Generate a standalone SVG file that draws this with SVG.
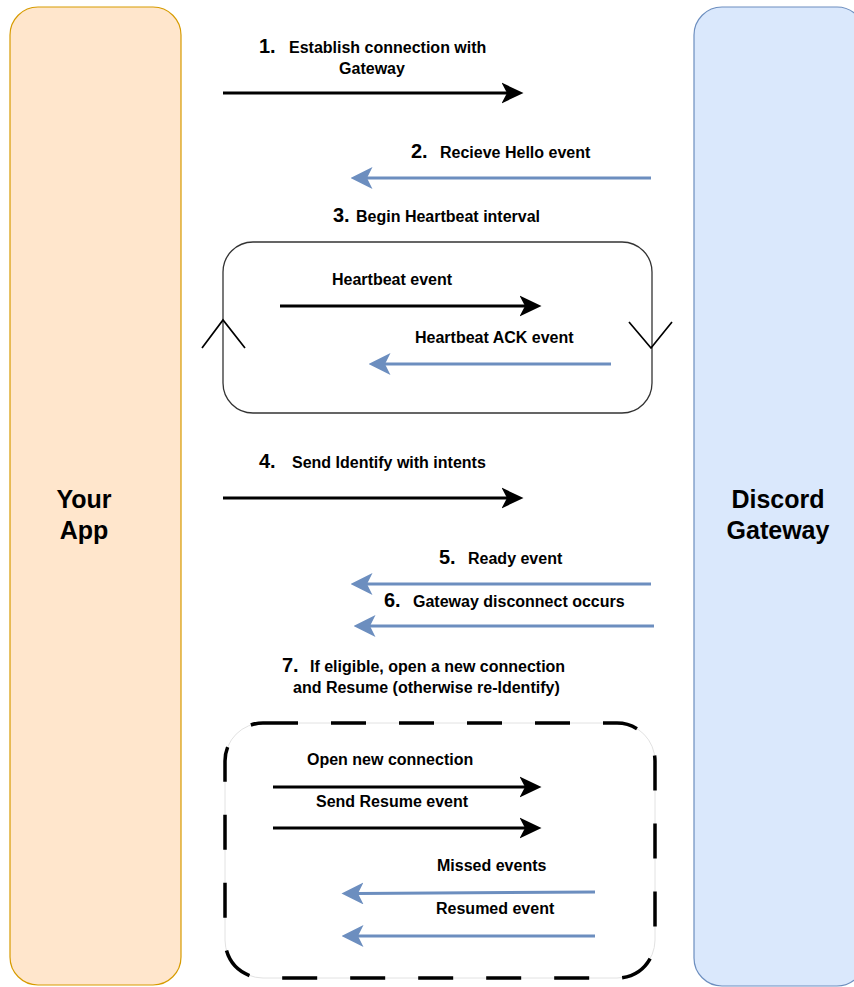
<svg xmlns="http://www.w3.org/2000/svg" width="854" height="987" viewBox="0 0 854 987">
  <style>
    .lbl { font-family: "Liberation Sans", Arial, sans-serif; font-weight: bold; font-size: 16px; fill: #000; }
    .num { font-family: "Liberation Sans", Arial, sans-serif; font-weight: bold; font-size: 20px; fill: #000; }
    .lane { font-family: "Liberation Sans", Arial, sans-serif; font-weight: bold; font-size: 25px; fill: #000; text-anchor: middle; }
    .send { stroke: #000; stroke-width: 3; fill: none; marker-end: url(#headBlack); }
    .recv { stroke: #6c8ebf; stroke-width: 3; fill: none; marker-end: url(#headBlue); }
    .chev { stroke: #000; stroke-width: 1.7; fill: none; }
  </style>
  <defs>
    <marker id="headBlack" markerUnits="userSpaceOnUse" markerWidth="22" markerHeight="22" viewBox="0 0 20 19" refX="5" refY="9.5" orient="auto">
      <path d="M0,0 L20,9.5 L0,19 L5,9.5 Z" fill="#000"/>
    </marker>
    <marker id="headBlue" markerUnits="userSpaceOnUse" markerWidth="22" markerHeight="22" viewBox="0 0 20 20" refX="5" refY="10" orient="auto">
      <path d="M0,0 L20,10 L0,20 L5,10 Z" fill="#6c8ebf"/>
    </marker>
  </defs>
  <rect width="854" height="987" fill="#fff"/>

  <g id="lane-your-app">
    <rect x="10" y="7" width="171" height="978" rx="28" ry="28" fill="#ffe6cc" stroke="#d79b00" stroke-width="1.2"/>
    <text class="lane" x="84" y="508">Your</text>
    <text class="lane" x="84" y="539">App</text>
  </g>

  <g id="lane-discord-gateway">
    <rect x="694" y="7" width="171" height="979" rx="28" ry="28" fill="#dae8fc" stroke="#6c8ebf" stroke-width="1.2"/>
    <text class="lane" x="778" y="508">Discord</text>
    <text class="lane" x="778" y="539">Gateway</text>
  </g>

  <g id="heartbeat-loop">
    <rect x="223" y="242" width="429" height="171" rx="30" ry="30" fill="none" stroke="#333" stroke-width="1.3"/>
    <path class="chev" d="M202,348 L223,320 L245,348"/>
    <path class="chev" d="M629,322 L651,348 L672,322"/>
  </g>

  <g id="resume-box">
    <rect x="225" y="723" width="430" height="255" rx="38" ry="38" fill="none" stroke="#e2e2e2" stroke-width="1"/>
    <rect x="225" y="723" width="430" height="255" rx="38" ry="38" fill="none" stroke="#000" stroke-width="3.5" stroke-dasharray="35 33"/>
  </g>

  <g id="connectors">
    <line id="c1" class="send" x1="223" y1="93" x2="507" y2="93"/>
    <line id="c2" class="recv" x1="651" y1="178" x2="367" y2="178"/>
    <line id="c3a" class="send" x1="280" y1="306" x2="525" y2="306"/>
    <line id="c3b" class="recv" x1="611" y1="364" x2="385" y2="364"/>
    <line id="c4" class="send" x1="223" y1="498" x2="507" y2="498"/>
    <line id="c5" class="recv" x1="651" y1="584" x2="367" y2="584"/>
    <line id="c6" class="recv" x1="654" y1="626" x2="370" y2="626"/>
    <line id="c7a" class="send" x1="273" y1="787" x2="525" y2="787"/>
    <line id="c7b" class="send" x1="273" y1="828" x2="525" y2="828"/>
    <line id="c7c" class="recv" x1="595" y1="892" x2="358" y2="893.5"/>
    <line id="c7d" class="recv" x1="595" y1="936" x2="358" y2="936"/>
  </g>

  <g id="labels">
    <text class="num" x="259" y="53">1.</text>
    <text class="lbl" x="289" y="53">Establish connection with</text>
    <text class="lbl" x="372" y="74" text-anchor="middle">Gateway</text>

    <text class="num" x="411" y="158">2.</text>
    <text class="lbl" x="440" y="158">Recieve Hello event</text>

    <text class="num" x="333" y="222">3.</text>
    <text class="lbl" x="356" y="222">Begin Heartbeat interval</text>

    <text class="lbl" x="332" y="285">Heartbeat event</text>
    <text class="lbl" x="415" y="343">Heartbeat ACK event</text>

    <text class="num" x="259" y="468">4.</text>
    <text class="lbl" x="292" y="468">Send Identify with intents</text>

    <text class="num" x="439" y="564">5.</text>
    <text class="lbl" x="468" y="564">Ready event</text>

    <text class="num" x="384" y="607">6.</text>
    <text class="lbl" x="413" y="607">Gateway disconnect occurs</text>

    <text class="num" x="282" y="672">7.</text>
    <text class="lbl" x="310" y="672">If eligible, open a new connection</text>
    <text class="lbl" x="293" y="693">and Resume (otherwise re-Identify)</text>

    <text class="lbl" x="307" y="765">Open new connection</text>
    <text class="lbl" x="316" y="807">Send Resume event</text>
    <text class="lbl" x="437" y="871">Missed events</text>
    <text class="lbl" x="436" y="914">Resumed event</text>
  </g>
</svg>
